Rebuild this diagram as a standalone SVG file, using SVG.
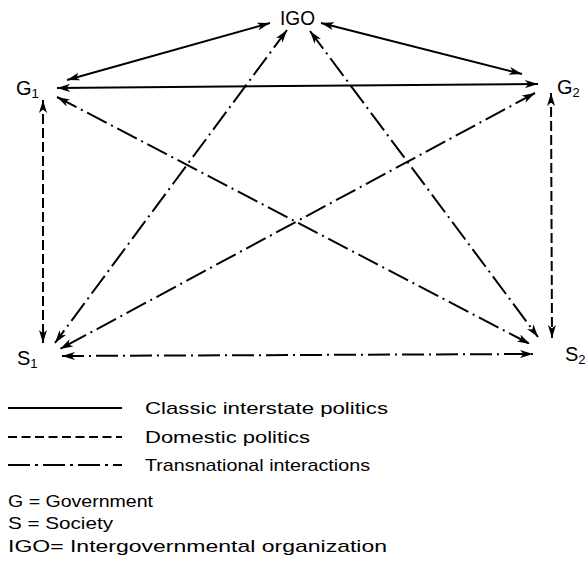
<svg xmlns="http://www.w3.org/2000/svg" width="588" height="561" viewBox="0 0 588 561">
<style>
text{font-family:"Liberation Sans","DejaVu Sans",sans-serif;fill:#000}
.node{font-size:20px}
.sub{font-size:13px}
.leg{font-size:17px}
.c{stroke:#000;stroke-width:2;fill:none;marker-start:url(#ah);marker-end:url(#ah)}
.solid{}
.dash{stroke-dasharray:10 4}
.dd{stroke-dasharray:22 5 2 5}
.l{stroke:#000;stroke-width:2;fill:none}
</style>
<defs>
<marker id="ah" viewBox="0 0 13 8" refX="13" refY="4" markerWidth="13" markerHeight="8" markerUnits="userSpaceOnUse" orient="auto-start-reverse">
<path d="M0,0 L13,4 L0,8 L3.5,4 z" fill="#000"/>
</marker>
</defs>
<rect width="588" height="561" fill="#fff"/>
<g id="connectors">
<line class="c solid" x1="67" y1="80" x2="270" y2="23"/>
<line class="c solid" x1="321" y1="23" x2="522" y2="74"/>
<line class="c solid" x1="57" y1="88" x2="538" y2="84"/>
<line class="c dash" x1="43" y1="100" x2="43" y2="343"/>
<line class="c dash" x1="551" y1="93" x2="552" y2="338"/>
<line class="c dd" x1="57" y1="97" x2="530" y2="344"/>
<line class="c dd" x1="287" y1="30" x2="55" y2="343"/>
<line class="c dd" x1="310" y1="31" x2="538" y2="337"/>
<line class="c dd" x1="535" y1="93" x2="60" y2="349"/>
<line class="c dd" x1="62" y1="356" x2="533" y2="354"/>
</g>
<g id="IGO"><text class="node" x="280" y="25" textLength="35" lengthAdjust="spacingAndGlyphs">IGO</text></g>
<g id="G1"><text class="node" x="16" y="95">G<tspan class="sub" dy="3">1</tspan></text></g>
<g id="G2"><text class="node" x="557" y="94">G<tspan class="sub" dy="3">2</tspan></text></g>
<g id="S1"><text class="node" x="17" y="365">S<tspan class="sub" dy="3">1</tspan></text></g>
<g id="S2"><text class="node" x="565" y="361">S<tspan class="sub" dy="3">2</tspan></text></g>
<g id="legend">
<line class="l" x1="8" y1="408" x2="122" y2="408"/>
<text class="leg" x="145" y="414" textLength="243" lengthAdjust="spacingAndGlyphs">Classic interstate politics</text>
<line class="l" x1="8" y1="437" x2="122" y2="437" stroke-dasharray="9 4.5"/>
<text class="leg" x="145" y="443" textLength="165" lengthAdjust="spacingAndGlyphs">Domestic politics</text>
<line class="l" x1="8" y1="465" x2="122" y2="465" stroke-dasharray="22 5 3 5"/>
<text class="leg" x="145" y="471" textLength="225" lengthAdjust="spacingAndGlyphs">Transnational interactions</text>
<text class="leg" x="8" y="507" textLength="145" lengthAdjust="spacingAndGlyphs">G = Government</text>
<text class="leg" x="8" y="529" textLength="105" lengthAdjust="spacingAndGlyphs">S = Society</text>
<text class="leg" x="8" y="552" textLength="379" lengthAdjust="spacingAndGlyphs">IGO= Intergovernmental  organization</text>
</g>
</svg>
